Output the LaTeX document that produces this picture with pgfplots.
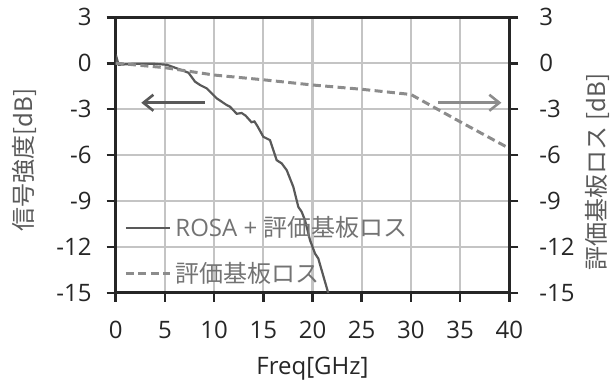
\documentclass[border=0pt]{standalone}
\usepackage{fontspec}
\setmainfont{Open Sans}
\newfontfamily\jp{Noto Sans CJK JP}
\usepackage{pgfplots}
\pgfplotsset{compat=1.18}
\usetikzlibrary{arrows.meta}
\definecolor{axc}{HTML}{262626}
\definecolor{gridc}{RGB}{196,196,196}
\definecolor{rosac}{HTML}{595959}
\definecolor{lossc}{HTML}{8C8C8C}
\definecolor{labc}{HTML}{595959}
\definecolor{legc}{HTML}{737373}
\begin{document}
\begin{tikzpicture}[font=\fontsize{12}{14}\selectfont]
\useasboundingbox (-57.85pt,-45pt) rectangle (247.65pt,146.5pt);
\pgfplotsset{
  base/.style={
    at={(0pt,0pt)}, anchor=south west, scale only axis,
    width=196.8pt, height=137.85pt,
    xmin=0,xmax=40,ymin=-15,ymax=3,
    ytick={-15,-12,-9,-6,-3,0,3},
    yticklabels={-15,-12,-9,-6,-3,0,3},
    tick align=outside, major tick length=4.5pt,
    every major tick/.style={draw=axc, line width=1.3pt},
    axis line style={axc, line width=1.5pt},
    tick label style={font=\fontsize{12}{14}\selectfont, text=axc},
  }
}
\begin{axis}[base,
  xtick={0,5,...,40}, xticklabels={0,5,10,15,20,25,30,35,40},
  tick pos=left,
  xmajorgrids=true, ymajorgrids=true,
  every major grid/.style={draw=gridc, line width=1.1pt},
  xticklabel style={yshift=-6pt},
  yticklabel style={xshift=-4pt},
  xlabel={Freq[GHz]}, ylabel={\jp 信号強度[dB]},
  every axis x label/.style={at={(axis description cs:0.5,-0.276)}, anchor=center, text=axc, font=\fontsize{12}{14}\selectfont},
  every axis y label/.style={at={(axis description cs:-0.233,0.482)}, rotate=90, anchor=center, text=labc, font=\fontsize{12}{14}\selectfont},
  legend style={at={(axis cs:0.85,-9.7)}, anchor=north west, draw=none, fill=none, text=legc, font=\fontsize{12}{14}\selectfont, row sep=7.5pt, inner sep=0pt},
  legend cell align=left,
  legend image code/.code={\draw[#1] (0pt,0pt) -- (22pt,0pt);},
]
\addplot[rosac, line width=1.1pt] coordinates {
(0,-0.1) (0.12,0.3) (0.3,-0.1) (0.8,-0.08) (1.8,-0.03) (3.8,-0.03) (5.2,-0.1) (6.2,-0.33) (7.4,-0.62)
(8.06,-1.2) (8.57,-1.42) (9.25,-1.64) (10.26,-2.29) (11.28,-2.73) (11.62,-2.84) (12.3,-3.3) (12.8,-3.25)
(13.2,-3.42) (13.8,-3.85) (14.1,-3.8) (14.4,-4.1) (15.0,-4.8) (15.68,-5.02) (16.36,-6.33) (16.87,-6.54)
(17.38,-6.98) (18.05,-8.07) (18.56,-9.38) (18.9,-9.7) (19.24,-10.25) (19.75,-11.56) (20.26,-12.43)
(20.59,-12.75) (21.6,-15.0)};
\addlegendentry{ROSA + {\jp 評価基板ロス}}
\addlegendimage{lossc, line width=1.5pt, dash pattern=on 4pt off 2.2pt}
\addlegendentry{{\jp 評価基板ロス}}
\draw[rosac, line width=1.3pt, -{Straight Barb[length=5pt,width=8pt]}] (axis cs:9.05,-2.58) -- (axis cs:2.6,-2.58);
\end{axis}
\begin{axis}[base, axis x line=none, axis y line*=right,
  yticklabel style={xshift=7pt},
  ylabel={\jp 評価基板ロス [dB]},
  every axis y label/.style={at={(axis description cs:1.2228,0.439)}, rotate=90, anchor=center, text=labc, font=\fontsize{12}{14}\selectfont},
]
\addplot[lossc, line width=1.5pt, dash pattern=on 4pt off 2.2pt] coordinates {
(0,0) (1,-0.05) (5,-0.29) (10,-0.77) (15,-1.08) (20,-1.42) (25,-1.7) (30,-2.04) (35,-3.82) (40,-5.56)};
\draw[lossc, line width=1.3pt, -{Straight Barb[length=5pt,width=8pt]}] (axis cs:32.8,-2.58) -- (axis cs:39.2,-2.58);
\end{axis}
\end{tikzpicture}
\end{document}
